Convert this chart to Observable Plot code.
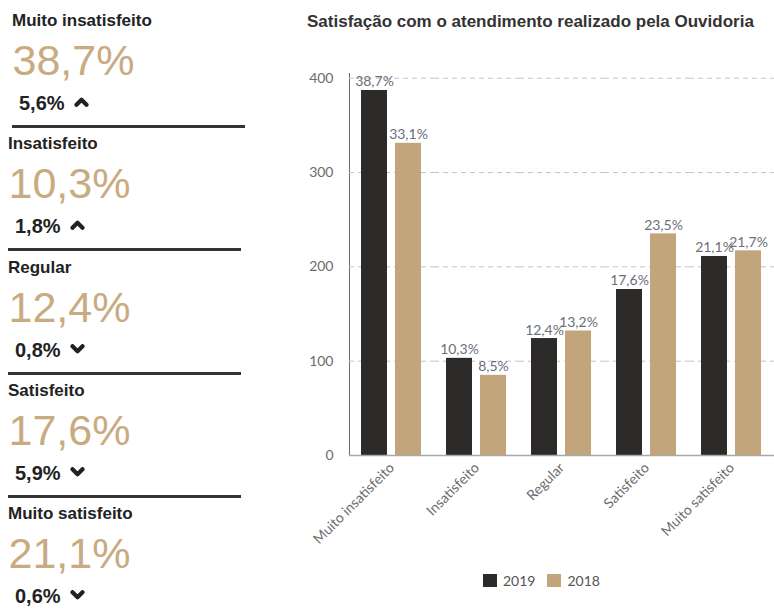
<!DOCTYPE html>
<html>
<head>
<meta charset="utf-8">
<script src="https://cdn.jsdelivr.net/npm/d3@7"></script>
<script src="https://cdn.jsdelivr.net/npm/@observablehq/plot@0.6"></script>
<style>
  html, body { margin: 0; padding: 0; background: #fff; }
  body { width: 774px; height: 615px; position: relative; overflow: hidden; font-family: "Liberation Sans", Arial, sans-serif; }
  .abs { position: absolute; white-space: nowrap; line-height: 1; }
  .ktitle { font-size: 17px; font-weight: bold; color: #222; }
  .kvalue { font-size: 43px; color: #c8ab80; }
  .kchange { font-size: 20px; font-weight: bold; color: #222; }
  .kchange svg { margin-left: 9px; vertical-align: 3px; }
  .divider { position: absolute; height: 3px; background: #333; }
  #title { font-size: 17px; font-weight: bold; color: #333; }
  #chart { position: absolute; left: 290px; top: 40px; }
  #legend { position: absolute; left: 483px; top: 572px; font-family: Lato, sans-serif; font-size: 14px; color: #555; display: flex; align-items: center; }
  #legend .sw { width: 14px; height: 13px; display: inline-block; margin-right: 6px; }
  #legend .it { display: flex; align-items: center; margin-right: 12px; }
</style>
</head>
<body>
<div id="left"></div>
<div id="title" class="abs" style="left:307px; top:13px;">Satisfação com o atendimento realizado pela Ouvidoria</div>
<div id="chart"></div>
<div id="legend"></div>
<script>
// ---- data ----
const categories = ["Muito insatisfeito", "Insatisfeito", "Regular", "Satisfeito", "Muito satisfeito"];
const years = ["2019", "2018"];
const values2019 = [387, 103, 124, 176, 211];
const values2018 = [331, 85, 132, 235, 217];
const yTicks = [0, 100, 200, 300, 400];
const yearColors = ["#2d2b29", "#c2a57a"];

const kpiTitles = ["Muito insatisfeito", "Insatisfeito", "Regular", "Satisfeito", "Muito satisfeito"];
const kpiValues = ["38,7%", "10,3%", "12,4%", "17,6%", "21,1%"];
const kpiChanges = ["5,6%", "1,8%", "0,8%", "5,9%", "0,6%"];
const kpiDirections = ["up", "up", "down", "down", "down"];

// ---- left KPI panel ----
const left = document.getElementById("left");
const step = 123.3;
function chevron(dir) {
  const pts = dir === "up" ? "2.5,7.8 7.5,2.8 12.5,7.8" : "2.5,2.2 7.5,7.2 12.5,2.2";
  return `<svg width="15" height="10" viewBox="0 0 15 10"><polyline points="${pts}" fill="none" stroke="#222" stroke-width="4.2" stroke-linecap="round" stroke-linejoin="round"/></svg>`;
}
kpiTitles.forEach((t, i) => {
  const off = i * step;
  const dx = i === 0 ? 4 : 0;
  left.insertAdjacentHTML("beforeend", `
    <div class="abs ktitle" style="left:${8 + dx}px; top:${26.5 - 14.4 + off}px">${t}</div>
    <div class="abs kvalue" style="left:${8.5 + dx}px; top:${75.5 - 36.4 + off}px">${kpiValues[i]}</div>
    <div class="abs kchange" style="left:${15 + dx}px; top:${110 - 16.9 + off}px">${kpiChanges[i]}${chevron(kpiDirections[i])}</div>
    ${i < kpiTitles.length - 1 ? `<div class="divider" style="left:${8 + dx}px; width:233px; top:${125 + off}px"></div>` : ""}
  `);
});

// ---- chart ----
const data = categories.flatMap((c, i) => [
  {cat: c, year: years[0], value: values2019[i]},
  {cat: c, year: years[1], value: values2018[i]}
]);
const fmt = v => (v / 10).toFixed(1).replace(".", ",") + "%";

const chart = Plot.plot({
  width: 484,
  height: 520,
  marginLeft: 59,
  marginRight: 0,
  marginTop: 33,
  marginBottom: 105,
  style: {fontFamily: "Lato, sans-serif", fontSize: "14px", color: "#6b6b6b", background: "transparent", overflow: "visible"},
  fx: {domain: categories, padding: 0, label: null, axis: "bottom", tickRotate: -45, tickSize: 0, tickPadding: 10},
  x: {domain: years, axis: null, paddingInner: 0.2286, paddingOuter: 0.3286},
  y: {domain: [0, 405], ticks: yTicks, tickSize: 0, tickPadding: 16, label: null, line: true},
  color: {domain: years, range: yearColors},
  marks: [
    Plot.ruleY(yTicks.filter(d => d > 0), {stroke: "#c4c4c4", strokeDasharray: "5,4"}),
    Plot.barY(data, {fx: "cat", x: "year", y: "value", fill: "year"}),
    Plot.text(data, {fx: "cat", x: "year", y: "value", text: d => fmt(d.value), lineAnchor: "bottom", dy: -4, fill: "#6b6f7a", fontSize: 14}),
    Plot.ruleY([0], {stroke: "#a8a8a8", strokeWidth: 1.5})
  ]
});
document.getElementById("chart").appendChild(chart);

// ---- legend ----
const legend = document.getElementById("legend");
years.forEach((y, i) => {
  legend.insertAdjacentHTML("beforeend", `<span class="it"><span class="sw" style="background:${yearColors[i]}"></span>${y}</span>`);
});
</script>
</body>
</html>
